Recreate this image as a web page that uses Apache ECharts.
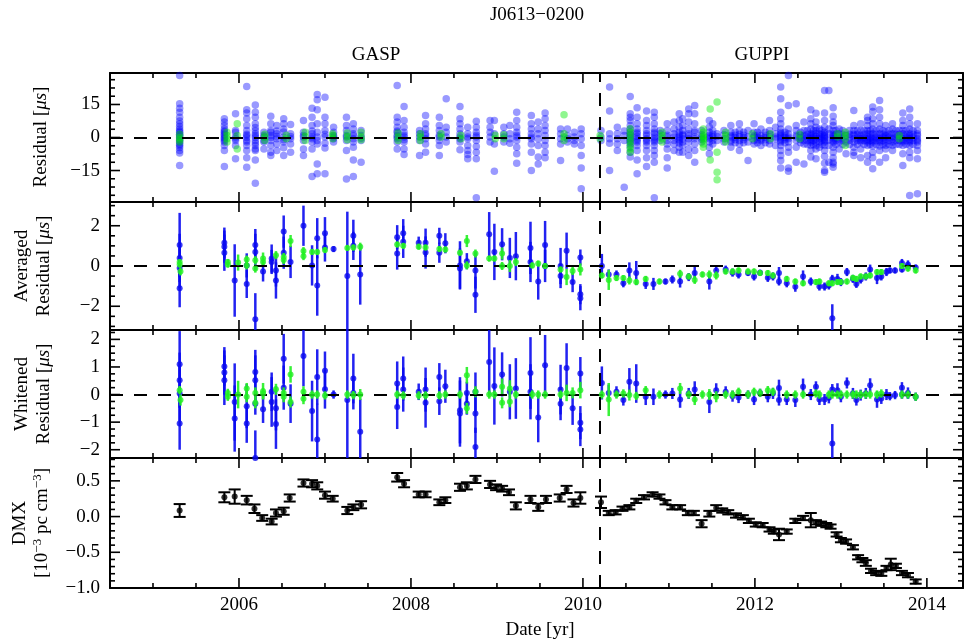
<!DOCTYPE html>
<html>
<head>
<meta charset="utf-8">
<script src="https://cdn.jsdelivr.net/npm/echarts@6/dist/echarts.min.js"></script>
<style>
  html, body { margin: 0; padding: 0; background: #fff; }
  #chart { width: 964px; height: 642px; }
</style>
</head>
<body>
<div id="chart"></div>
<script>
// time axis (years)
const X_MIN = 2004.5;
const X_MAX = 2014.42;
const GUPPI_START = 2010.19;
const yearLabels = [2006, 2008, 2010, 2012, 2014];
const yearMinor = [2005, 2005.5, 2006.5, 2007, 2007.5, 2008.5, 2009, 2009.5,
  2010.5, 2011, 2011.5, 2012.5, 2013, 2013.5];

// tick values per panel
const resTicks = [-15, 0, 15];
const resMinor = [-26.25, -22.5, -18.75, -11.25, -7.5, -3.75, 3.75, 7.5, 11.25, 18.75, 22.5, 26.25];
const avgTicks = [-2, 0, 2];
const avgMinor = [-3, -2.5, -1.5, -1, -0.5, 0.5, 1, 1.5, 2.5, 3];
const whtTicks = [-2, -1, 0, 1, 2];
const whtMinor = [-1.75, -1.5, -1.25, -0.75, -0.5, -0.25, 0.25, 0.5, 0.75, 1.25, 1.5, 1.75, 2.25];
const dmxTicks = [-1, -0.5, 0, 0.5];
const dmxMinor = [-0.9, -0.8, -0.7, -0.6, -0.4, -0.3, -0.2, -0.1, 0.1, 0.2, 0.3, 0.4, 0.6, 0.7, 0.8];

// raw residuals [us]: [epoch, residuals]
const resBlue = [
  [2005.31, [28.2, 15.3, 13.3, 11.5, 9.2, 7.5, 6.2, 5, 3.9, 3, 2.4, 1.5, 0.9, 0.3, -0.6, -1.2, -2.1, -3, -3.6, -4.5, -5.9, -7, -12.7]],
  [2005.83, [8.5, 7, 5.5, 3.9, 3, 2.4, 1.5, 0.9, 0, -0.6, -1.4, -2.1, -3.6, -5.9, -13.2]],
  [2005.96, [10.8, 3.2, 2.4, 0.2, -0.6, -1.4, -3.6, -9.7]],
  [2006.09, [23.2, 12.6, 11.1, 8.5, 5.5, 3.2, 1.5, 0.9, 0, -1.4, -2.1, -3.6, -5.9, -9.2, -13.5]],
  [2006.19, [14.8, 11.5, 9.2, 6.2, 4.5, 3.2, 1.7, 0.9, 0, -1.4, -2.5, -3.6, -5.2, -5.9, -10.2, -20.8]],
  [2006.29, [2.4, 0.9, 0.2, -1.4, -2.1, -5.2]],
  [2006.37, [9.7, 6.2, 3.2, 2.4, 0.9, 0, -1.4, -3.6, -6.7, -8.2]],
  [2006.44, [5.5, 3, 1.7, 0.5, -0.6, -2.9, -5.9]],
  [2006.52, [8.5, 6.2, 3.9, 2.5, 0.2, -1, -2.1, -4.7, -8.2]],
  [2006.60, [5.9, 1.7, 0.5, -0.6, -2.9, -6.7]],
  [2006.75, [7.7, 2.4, 0.9, 0.2, -1.4, -5.2, -8.2]],
  [2006.85, [13.3, 9.2, 5.5, 3, 1.7, 0.2, -0.6, -2.1, -5.2, -17.7]],
  [2006.91, [19.5, 17.1, 12.6, 6.2, 2.4, 0.2, -1.4, -2.9, -12, -16.5]],
  [2007.00, [18.3, 9.2, 6.2, 3.2, 1.5, 0.2, -2.6, -4.8, -16.5]],
  [2007.10, [4.7, 2.4, 0.9, 0.2, -0.6, -2.1]],
  [2007.25, [9.2, 5.5, 3.2, 0.9, 0.2, -1.4, -5.9, -18.8]],
  [2007.33, [6.2, 3.9, 1.7, 0.9, -0.6, -2.1, -4.4, -10.2, -17.7]],
  [2007.42, [3.2, 0.9, -0.3, -1.4, -11.2]],
  [2007.84, [23.6, 9.2, 7, 4.7, 3, 2.4, 0.9, 0.2, -0.6, -2.1, -5.2]],
  [2007.92, [14.1, 7.7, 4.7, 2.4, 1, 0.2, -1, -2.1, -5.2, -7.7]],
  [2008.10, [3.2, 1.7, 0.2, -1.4, -8.2]],
  [2008.17, [10, 6.2, 3.9, 1.7, 0.9, -0.6, -2.9, -6.7]],
  [2008.33, [9.2, 5.5, 3.2, 1, 0.2, -1.4, -3.6, -8.2]],
  [2008.41, [17.6, 4.7, 2.4, 0.2, -2.1]],
  [2008.57, [14.1, 8.5, 6.2, 3.9, 1.7, 0.2, -0.6, -2.1, -5.6]],
  [2008.66, [4.7, 1.7, 0.2, -0.6, -3.6, -5.9, -7.7, -9.7]],
  [2008.76, [7.4, 4.7, 2.4, 1, 0.2, -1.4, -4.1, -6.7, -9.7, -27.4]],
  [2008.92, [7.7, 4.7, 2.4, 0.2, -2.1]],
  [2008.97, [7.7, 1.7, -2.9, -15.3]],
  [2009.08, [4.7, 1.7, 0.2, -2.1]],
  [2009.15, [5.5, 1.7, -0.6, -2.6]],
  [2009.23, [11.5, 7.7, 4.7, 2.4, 1, 0.2, -1.4, -4.4, -7.4, -11.7]],
  [2009.40, [10, 6.2, 3.9, 1.7, 0.2, -0.6, -2.9, -6.7, -15]],
  [2009.48, [7, 3.9, 1.7, -0.6, -3.6, -8.9, -12]],
  [2009.56, [11.1, 8.5, 5.5, 3.2, 0.9, -1.4, -3.6, -6.7, -9.2]],
  [2009.74, [3.9, 1.7, -0.6, -2.9, -10.5]],
  [2009.82, [3.9, 0.9, -0.6, -2.1]],
  [2009.90, [2.4, 0.2, -1.4, -2.9]],
  [2009.98, [3.9, 1.7, -0.6, -3.6, -8.2, -13.8, -23.3]],
  [2010.21, [3.2, 0.2, -1.4]],
  [2010.31, [22.9, 12, 1.7, -0.6, -2.6, -15]],
  [2010.40, [4.7, 1.7, -0.6, -2.9, -5.9]],
  [2010.48, [2.9, 0.9, -1.4, -22.6]],
  [2010.55, [18.6, 10.8, 9.2, 7.7, 5.5, 3.9, 2.4, 1.5, 0.9, 0, -0.6, -1.4, -2.1, -3, -4.4, -6.7, -8.9]],
  [2010.63, [13.5, 9.2, 6.2, 3.9, 2.4, 1.7, 0.5, -0.6, -1.4, -2.1, -3.6, -5.9, -10.2, -16.5]],
  [2010.74, [12, 7.7, 5.5, 3.2, 1.7, 0.9, -0.6, -1.4, -2.1, -3.6, -5.9, -9.2, -13.2]],
  [2010.83, [11.5, 9.2, 6.2, 3.9, 2.4, 1.7, 0.2, -0.6, -1.4, -2.1, -3.6, -5.9, -8.2, -11.2, -27.4]],
  [2010.90, [3.2, 1.7, 0.2, -1.4]],
  [2010.98, [6.2, 3.2, 1, 0.2, -1.4, -2.9, -5.2, -9.2, -13.8]],
  [2011.06, [7, 3.9, 1.7, 0.2, -1.4, -2.9, -5.9]],
  [2011.12, [10.8, 7.7, 4.7, 2.4, 1.2, 0.2, -0.8, -1.4, -2.5, -4.4, -6.7]],
  [2011.16, [8.5, 5.5, 3.2, 1.5, 0.9, -0.6, -2.1, -3.6, -6.7]],
  [2011.23, [13, 10.8, 7, 3.9, 1.7, 0.9, -0.6, -2.1, -5.2, -8.2]],
  [2011.30, [14.5, 10.8, 6.2, 3.2, 2.4, 0.2, -0.6, -2.9, -5.9, -11.2]],
  [2011.38, [3.2, 1.2, 0.2, -0.8, -2.1]],
  [2011.47, [7.7, 4.7, 2.4, 1, 0.2, -0.6, -2.1, -4.4, -7.4]],
  [2011.51, [6.2, 3.2, 1.5, 0.2, -1.4, -2.9]],
  [2011.56, [1.7, 0.5, -1.4]],
  [2011.64, [3.2, 1.2, -0.6, -2.1]],
  [2011.72, [5.5, 2.4, 0.9, 0.2, -1.4, -2.1, -4.4]],
  [2011.77, [2.4, 1, 0, -1, -2.4]],
  [2011.82, [6.2, 3.2, 1.5, 0.2, -1.4, -2.9, -5.9]],
  [2011.87, [2.4, 1, 0, -1, -2.4]],
  [2011.92, [3.2, 0.2, -2.1, -10.5]],
  [2011.99, [6.2, 2.4, 0.9, 0.2, -1.4, -2.9]],
  [2012.03, [2.4, 1, 0, -1, -2.4]],
  [2012.07, [3.9, 0.9, -0.6, -1.4, -3.6]],
  [2012.12, [2.4, 1, 0, -1, -2.4]],
  [2012.17, [7.7, 3.2, 1.5, 0.2, -1.4, -2.9]],
  [2012.24, [4.7, 1.7, 0.2, -0.6, -3.6]],
  [2012.30, [22.9, 17.6, 11.5, 8.5, 6.2, 3.9, 2.4, 1.7, 0.9, 0.2, -0.6, -1.4, -2.1, -3.6, -5.9, -8.2, -10.5, -13.8]],
  [2012.35, [2.4, 1, 0, -1, -2.4]],
  [2012.39, [28.2, 14.5, 3.9, 1.7, 0.2, -0.6, -2.1, -4.4, -6.7, -13.8, -15.3]],
  [2012.48, [15.3, 5.5, 3.2, 1, 0.2, -1.4, -4.4, -11.2]],
  [2012.53, [2.4, 1, 0, -1, -2.4]],
  [2012.57, [7, 3.2, 0.9, 0.2, -1.4, -2.9, -12]],
  [2012.61, [3.2, 1.5, 0, -1.4, -3.2]],
  [2012.65, [12.6, 8.5, 6.2, 3.9, 1.7, 0.9, 0.2, -0.6, -1.4, -2.1, -3.6, -5.9, -8.9]],
  [2012.68, [3.2, 1.5, 0, -1.4, -3.2]],
  [2012.71, [11, 7, 4.7, 3.2, 1.7, 0.5, -0.6, -2.1, -3.6, -5.2, -9.7]],
  [2012.75, [3.9, 1.7, 0.5, -0.6, -2.1, -4.4]],
  [2012.78, [3.2, 1.5, 0, -1.4, -3.2]],
  [2012.81, [21.4, 11.1, 7.7, 4.7, 2.4, 1.5, 0.9, 0.2, -0.6, -1.4, -2.1, -3.6, -5.9, -8.5, -11.7, -15, -15.8]],
  [2012.86, [21.4, 3.9, 1.7, -1.4, -3.6, -11.2]],
  [2012.91, [13.5, 9.7, 7, 5.5, 3.2, 1.5, 0.9, 0.2, -0.6, -1.4, -2.1, -4.4, -6.7, -9.2, -11.2, -12, -13.5]],
  [2012.94, [3.2, 1.5, 0, -1.4, -3.2]],
  [2012.98, [3.9, 1.7, 0.2, -0.6, -2.1, -5.2]],
  [2013.02, [3.2, 1.5, 0, -1.4, -3.2]],
  [2013.06, [0.9, -2.1, -7.4]],
  [2013.10, [3.2, 1.5, 0, -1.4, -3.2]],
  [2013.15, [12.3, 5.5, 3.2, 1.5, 0.9, -0.6, -2.1, -4.4, -6.7, -8.2]],
  [2013.19, [3.2, 1.5, 0, -1.4, -3.2]],
  [2013.23, [6.2, 3.2, 1, 0.2, -0.6, -1.4, -2.1, -5.2, -9.2]],
  [2013.27, [3.2, 1.5, 0, -1.4, -3.2]],
  [2013.31, [9.2, 7.7, 5.5, 3.2, 1.7, 0.2, -0.6, -1.4, -2.1, -3.6, -8.2, -11.2]],
  [2013.34, [3.2, 1.5, 0, -1.4, -3.2]],
  [2013.37, [13.8, 11.8, 8.5, 6.2, 3.9, 1.7, 0.2, -0.6, -1.4, -2.1, -3.9, -6.7, -9.2, -14.2]],
  [2013.41, [3.2, 1.5, 0, -1.4, -3.2]],
  [2013.45, [16.8, 12.6, 9.2, 6.2, 3.9, 1.7, 0.2, -0.6, -1.4, -2.1, -3.9, -5.9, -11.2]],
  [2013.49, [3.2, 1.5, 0, -1.4, -3.2]],
  [2013.52, [5.5, 2.4, 0.9, 0.2, -0.6, -2.1, -3.6, -5.2, -9.2]],
  [2013.56, [3.2, 1.5, 0, -1.4, -3.2]],
  [2013.60, [6.2, 3.9, 1.7, 0.2, -0.6, -2.1, -3.6, -5.9]],
  [2013.64, [3.2, 1.5, 0, -1.4, -3.2]],
  [2013.68, [3.2, 1.5, 0, -1.4, -3.2]],
  [2013.72, [11.1, 7.7, 5.5, 3.2, 1.7, 0.2, -0.6, -1.4, -2.1, -3.6, -7.4, -12.7]],
  [2013.76, [3.2, 1.5, 0, -1.4, -3.2]],
  [2013.80, [13, 9.2, 6.2, 3.9, 1.7, 0.9, 0.2, -0.6, -1.4, -2.1, -3.6, -6.7, -9.2, -26.4]],
  [2013.84, [3.2, 1.5, 0, -1.4, -3.2]],
  [2013.89, [6.2, 3.2, 1.7, 0.9, -0.6, -1.4, -2.1, -3.6, -5.9, -9.7, -25.6]]
];
const resGreen = [
  [2005.31, [1.5, 0, -1, -2]],
  [2005.86, [2.4, 0.9, -0.6, -2.1]],
  [2005.98, [6.2, 0.9, -5.2]],
  [2006.30, [1.5, 0.2, -1.4]],
  [2006.55, [1, -0.6]],
  [2006.77, [2.4, 0.5, -1.4]],
  [2007.09, [1.7, 0.9, -0.6]],
  [2007.26, [2, 0.5, -1]],
  [2007.42, [2.4, 0.2, -1]],
  [2007.85, [2, 0.2, -1.4]],
  [2008.11, [1.7, 0.2, -1.4]],
  [2008.35, [1.7, 0.2]],
  [2008.58, [1, -0.6]],
  [2008.98, [1, -0.6]],
  [2009.08, [1.2, -0.6]],
  [2009.78, [10.3, 1.7, 0.2, -1.4]],
  [2010.20, [0.9, -0.6]],
  [2010.55, [4, 2.4, 0.9, -0.6, -2.1, -3.6, -5.2, -6.7]],
  [2010.92, [2.4, 0.9, -0.6, -2.1]],
  [2011.40, [3.9, 2.4, 0.9, 0.2, -0.6, -1.4, -3, -4.4]],
  [2011.48, [13, -10.2]],
  [2011.56, [16.1, -6.7, -15.8, -19.2]],
  [2011.66, [2.4, 0.9, -0.6, -2.1]],
  [2011.97, [1.7, -0.6]],
  [2012.18, [1.7, -0.6]],
  [2012.52, [1.5, -0.6]],
  [2012.96, [1.7, 0.2]],
  [2013.05, [2.4, 0.9, -0.6, -3.6]],
  [2013.68, [0.9, -0.6]]
];

// averaged residuals [us]: [epoch, value, error]
const avgBlue = [
  [2005.31, 1.04, 1.6], [2005.31, 0.4, 1.2], [2005.31, -0.1, 1.0], [2005.31, -1.1, 0.95],
  [2005.83, 1.16, 0.75], [2005.83, 0.96, 0.8], [2005.83, 0.66, 0.9],
  [2005.95, -0.72, 1.8], [2006.09, -0.89, 0.7], [2006.09, 0.03, 0.6],
  [2006.19, 1.04, 0.8], [2006.19, 0.7, 0.9], [2006.19, -2.65, 1.3],
  [2006.28, -0.27, 0.5], [2006.38, 0.37, 0.7], [2006.38, 0.2, 0.6],
  [2006.43, -0.22, 0.8], [2006.43, -0.72, 0.9], [2006.52, 1.71, 0.8], [2006.52, 0.66, 0.8],
  [2006.60, 0.2, 0.8], [2006.75, 2.0, 1.0], [2006.85, 0.03, 1.0],
  [2006.91, 1.38, 1.0], [2006.91, -0.97, 1.5], [2007.00, 1.63, 0.8], [2007.00, 0.92, 0.7],
  [2007.10, 0.84, 0.15], [2007.26, -0.5, 3.2], [2007.33, 1.5, 0.8], [2007.33, 1.0, 0.7],
  [2007.41, -0.42, 1.5], [2007.84, 1.43, 0.6], [2007.84, 0.62, 0.8],
  [2007.91, 1.63, 0.7], [2007.91, 1.2, 0.8], [2008.09, 1.16, 0.3],
  [2008.17, 1.16, 0.7], [2008.17, 0.67, 0.8], [2008.33, 1.5, 0.4], [2008.33, 0.66, 0.5],
  [2008.40, 1.13, 0.5], [2008.57, 0.03, 1.2], [2008.57, -0.13, 1.0], [2008.65, 0.24, 0.4],
  [2008.75, -0.22, 0.9], [2008.75, -1.43, 0.9], [2008.91, 1.58, 1.1], [2008.97, 0.7, 1.4],
  [2009.06, 1.08, 0.8], [2009.15, 0.4, 1.0], [2009.22, 0.49, 1.2],
  [2009.39, 0.9, 1.3], [2009.39, 0.2, 1.0], [2009.48, -0.77, 0.9],
  [2009.56, 1.04, 1.2], [2009.56, 0, 0.8], [2009.74, 0, 0.9], [2009.74, -0.5, 0.6],
  [2009.81, 0.76, 0.9], [2009.88, -0.8, 0.5],
  [2009.97, 0.42, 0.4], [2009.97, -1.4, 0.5], [2009.97, -1.6, 0.6],
  [2010.22, 0, 0.6], [2010.30, -0.42, 0.25], [2010.39, -0.42, 0.2], [2010.47, -0.86, 0.2],
  [2010.54, -0.22, 0.4], [2010.62, -0.35, 0.6], [2010.73, -0.89, 0.25], [2010.82, -0.89, 0.3],
  [2010.96, -0.77, 0.15], [2011.04, -0.67, 0.2], [2011.13, -0.77, 0.3], [2011.23, -0.55, 0.2],
  [2011.30, -0.35, 0.3], [2011.47, -0.77, 0.4], [2011.55, -0.22, 0.25], [2011.66, -0.18, 0.2],
  [2011.74, -0.33, 0.2], [2011.81, -0.42, 0.2], [2011.92, -0.35, 0.15], [2011.99, -0.52, 0.2],
  [2012.06, -0.33, 0.15], [2012.15, -0.59, 0.2], [2012.21, -0.52, 0.2], [2012.28, -0.35, 0.3],
  [2012.28, -0.77, 0.2], [2012.37, -0.86, 0.2], [2012.47, -1.03, 0.25], [2012.56, -0.52, 0.3],
  [2012.65, -0.77, 0.2], [2012.75, -1.02, 0.2], [2012.81, -1.02, 0.2], [2012.86, -0.97, 0.2],
  [2012.90, -0.64, 0.2], [2012.90, -2.6, 0.7], [2012.96, -0.64, 0.25], [2013.00, -0.8, 0.2],
  [2013.07, -0.3, 0.2], [2013.14, -0.64, 0.2], [2013.18, -0.89, 0.2], [2013.23, -0.67, 0.2],
  [2013.29, -0.52, 0.2], [2013.34, -0.18, 0.25], [2013.42, -0.6, 0.3], [2013.47, -0.52, 0.2],
  [2013.53, -0.3, 0.2], [2013.57, -0.22, 0.15], [2013.63, -0.22, 0.15], [2013.71, 0.15, 0.2],
  [2013.71, -0.17, 0.15], [2013.78, 0.08, 0.2], [2013.78, -0.02, 0.15], [2013.87, -0.08, 0.15]
];
const avgGreen = [
  [2005.31, 0.2, 0.15], [2005.31, 0.07, 0.15], [2005.32, -0.27, 0.2], [2005.87, 0.2, 0.15],
  [2005.87, 0.07, 0.15], [2005.99, 0.17, 0.4], [2006.09, 0.32, 0.2], [2006.09, 0.03, 0.2],
  [2006.19, 0.29, 0.2], [2006.19, -0.13, 0.2], [2006.28, 0.37, 0.3], [2006.28, 0.2, 0.2],
  [2006.43, 0.54, 0.2], [2006.52, 0.45, 0.2], [2006.52, 0.3, 0.2], [2006.60, 1.24, 0.3],
  [2006.75, 0.74, 0.2], [2006.75, 0.49, 0.2], [2006.85, 0.7, 0.15], [2006.91, 0.7, 0.15],
  [2007.00, 0.79, 0.15], [2007.26, 0.9, 0.15], [2007.33, 0.92, 0.15], [2007.41, 0.96, 0.2],
  [2007.84, 1.07, 0.15], [2007.91, 1.0, 0.15], [2008.09, 0.96, 0.15], [2008.17, 0.92, 0.15],
  [2008.33, 0.84, 0.15], [2008.40, 0.82, 0.15], [2008.57, 0.66, 0.15], [2008.65, 1.24, 0.3],
  [2008.65, 0.03, 0.2], [2008.75, 0.62, 0.2], [2008.91, 0.37, 0.15], [2008.97, 0.37, 0.15],
  [2009.06, 0.62, 0.3], [2009.06, 0, 0.2], [2009.15, 0, 0.3], [2009.22, 0.2, 0.2],
  [2009.41, 0.03, 0.15], [2009.48, 0.12, 0.15], [2009.56, 0, 0.15], [2009.74, -0.17, 0.15],
  [2009.81, -0.55, 0.4], [2009.88, -0.25, 0.2], [2009.97, -0.17, 0.3],
  [2010.22, -0.47, 0.15], [2010.30, -0.69, 0.5], [2010.39, -0.6, 0.15], [2010.47, -0.6, 0.15],
  [2010.54, -0.72, 0.2], [2010.62, -0.8, 0.15], [2010.73, -0.64, 0.15], [2010.89, -0.77, 0.15],
  [2011.13, -0.39, 0.2], [2011.23, -0.52, 0.15], [2011.30, -0.69, 0.2], [2011.39, -0.42, 0.15],
  [2011.47, -0.42, 0.2], [2011.55, -0.47, 0.2], [2011.66, -0.27, 0.15], [2011.74, -0.27, 0.15],
  [2011.81, -0.22, 0.15], [2011.92, -0.27, 0.15], [2011.99, -0.27, 0.15], [2012.06, -0.35, 0.15],
  [2012.15, -0.35, 0.15], [2012.21, -0.47, 0.15], [2012.37, -0.64, 0.15], [2012.47, -0.77, 0.15],
  [2012.56, -0.86, 0.15], [2012.71, -0.8, 0.15], [2012.75, -0.77, 0.15], [2012.86, -0.86, 0.15],
  [2012.90, -0.86, 0.15], [2012.96, -0.8, 0.15], [2013.00, -0.8, 0.15], [2013.07, -0.77, 0.15],
  [2013.14, -0.59, 0.15], [2013.18, -0.64, 0.15], [2013.23, -0.52, 0.15], [2013.29, -0.52, 0.15],
  [2013.34, -0.47, 0.15], [2013.42, -0.3, 0.15], [2013.47, -0.3, 0.15], [2013.71, 0, 0.15],
  [2013.78, -0.13, 0.15], [2013.87, -0.22, 0.15]
];

// whitened residuals [us]: [epoch, value, error]
const whtBlue = [
  [2005.31, 1.1, 1.2], [2005.31, 0.52, 1.0], [2005.31, 0.04, 1.0], [2005.31, -1.05, 0.95],
  [2005.83, 1.02, 0.7], [2005.83, 0.8, 0.8], [2005.83, 0.52, 0.9],
  [2005.95, -0.27, 1.4], [2005.95, -0.87, 1.2], [2006.09, -0.42, 0.8], [2006.09, -1.05, 0.7],
  [2006.19, 0.82, 0.8], [2006.19, 0.52, 0.9], [2006.19, -0.33, 0.4], [2006.19, -2.3, 1.0],
  [2006.28, -0.53, 0.5], [2006.38, 0.1, 0.7], [2006.38, -0.27, 0.9],
  [2006.43, -0.5, 0.8], [2006.43, -1.07, 0.9], [2006.52, 1.3, 0.9], [2006.52, 0.25, 0.8],
  [2006.60, -0.33, 0.7], [2006.75, 1.4, 1.1], [2006.85, -0.6, 1.1],
  [2006.91, 0.64, 1.0], [2006.91, -1.63, 1.3], [2007.00, 0.86, 0.7], [2007.00, 0.19, 0.7],
  [2007.10, 0, 0.15], [2007.26, -0.2, 2.8], [2007.33, 0.58, 0.9], [2007.33, 0.06, 0.6],
  [2007.41, -1.35, 1.2], [2007.84, 0.4, 0.8], [2007.84, -0.45, 0.8],
  [2007.91, 0.58, 0.8], [2007.91, 0.18, 0.8], [2008.09, 0.1, 0.3],
  [2008.17, 0.18, 0.8], [2008.17, -0.3, 0.9], [2008.33, 0.64, 0.5], [2008.33, -0.24, 0.5],
  [2008.40, 0.3, 0.6], [2008.57, -0.57, 1.2], [2008.57, -0.69, 1.2],
  [2008.65, 0.06, 0.4], [2008.65, -0.33, 0.4], [2008.75, 0.1, 0.7], [2008.75, -0.69, 0.7],
  [2008.75, -1.9, 0.7], [2008.91, 1.18, 1.2], [2008.97, 0.31, 1.4], [2009.06, 0.73, 0.8],
  [2009.15, 0.1, 1.0], [2009.22, 0.22, 1.1], [2009.39, 0.78, 1.3], [2009.39, 0.1, 1.0],
  [2009.48, -0.83, 0.9], [2009.56, 1.06, 1.1], [2009.74, 0.18, 0.9], [2009.74, -0.33, 0.6],
  [2009.81, 0.96, 0.9], [2009.88, -0.5, 0.6],
  [2009.97, 0.76, 0.6], [2009.97, -1.02, 0.6], [2009.97, -1.27, 0.6],
  [2010.22, 0.42, 0.6], [2010.30, 0.06, 0.3], [2010.39, 0.1, 0.2], [2010.47, -0.2, 0.2],
  [2010.54, 0.46, 0.5], [2010.62, 0.4, 0.7], [2010.73, -0.08, 0.3], [2010.82, -0.08, 0.3],
  [2010.96, 0, 0.15], [2011.04, 0.04, 0.2], [2011.13, -0.18, 0.3], [2011.23, 0.04, 0.2],
  [2011.30, 0.18, 0.3], [2011.47, -0.27, 0.4], [2011.55, 0.16, 0.25], [2011.66, 0.1, 0.2],
  [2011.74, -0.06, 0.2], [2011.81, -0.11, 0.2], [2011.92, 0, 0.15], [2011.99, -0.18, 0.2],
  [2012.06, 0.06, 0.15], [2012.15, -0.08, 0.2], [2012.21, 0.04, 0.2], [2012.28, 0.24, 0.3],
  [2012.28, -0.2, 0.2], [2012.37, -0.18, 0.2], [2012.47, -0.2, 0.25], [2012.56, 0.28, 0.3],
  [2012.65, 0, 0.2], [2012.71, 0.28, 0.2], [2012.75, -0.18, 0.2], [2012.81, -0.18, 0.2],
  [2012.86, -0.12, 0.2], [2012.90, 0.18, 0.2], [2012.90, -1.77, 0.7], [2012.96, 0.16, 0.25],
  [2013.00, -0.08, 0.2], [2013.07, 0.42, 0.2], [2013.14, 0.04, 0.2], [2013.18, -0.2, 0.2],
  [2013.23, -0.02, 0.2], [2013.29, 0.04, 0.2], [2013.34, 0.34, 0.25], [2013.42, -0.18, 0.3],
  [2013.47, -0.14, 0.2], [2013.53, 0, 0.2], [2013.57, -0.06, 0.15], [2013.63, -0.02, 0.15],
  [2013.71, 0.25, 0.2], [2013.71, 0, 0.15], [2013.78, 0.06, 0.2], [2013.78, 0, 0.15],
  [2013.87, -0.08, 0.15]
];
const whtGreen = [
  [2005.31, 0.16, 0.15], [2005.32, -0.2, 0.2], [2005.87, 0.06, 0.15], [2005.87, -0.08, 0.15],
  [2005.99, 0, 0.5], [2006.09, 0.22, 0.2], [2006.09, -0.08, 0.2], [2006.19, 0.06, 0.2],
  [2006.19, -0.3, 0.2], [2006.28, 0.12, 0.3], [2006.28, 0.04, 0.2], [2006.43, 0.19, 0.2],
  [2006.52, 0.06, 0.2], [2006.52, -0.08, 0.2], [2006.60, 0.73, 0.3], [2006.60, -0.27, 0.2],
  [2006.75, 0.1, 0.2], [2006.75, -0.15, 0.2], [2006.85, 0, 0.15], [2006.91, 0, 0.15],
  [2007.00, -0.03, 0.15], [2007.26, 0, 0.15], [2007.33, -0.02, 0.15], [2007.41, 0, 0.2],
  [2007.84, 0, 0.15], [2007.91, -0.03, 0.15], [2008.09, -0.03, 0.15], [2008.17, -0.03, 0.15],
  [2008.33, -0.03, 0.15], [2008.40, 0, 0.15], [2008.57, 0, 0.15], [2008.65, 0.7, 0.3],
  [2008.65, -0.5, 0.2], [2008.75, 0.1, 0.2], [2008.91, 0, 0.15], [2008.97, 0, 0.15],
  [2009.06, 0.28, 0.3], [2009.06, -0.3, 0.2], [2009.15, 0.22, 0.3], [2009.15, -0.26, 0.2],
  [2009.22, 0, 0.15], [2009.41, 0, 0.15], [2009.48, 0, 0.15], [2009.56, 0, 0.15],
  [2009.74, 0, 0.15], [2009.81, 0.06, 0.3], [2009.88, 0.06, 0.2], [2009.97, 0.16, 0.3],
  [2010.22, 0, 0.15], [2010.30, -0.18, 0.6], [2010.39, 0, 0.15], [2010.47, 0.04, 0.15],
  [2010.54, -0.02, 0.2], [2010.62, -0.05, 0.15], [2010.73, 0.16, 0.15], [2010.89, 0, 0.15],
  [2011.13, 0.22, 0.2], [2011.23, 0, 0.15], [2011.30, -0.18, 0.2], [2011.39, 0, 0.15],
  [2011.47, 0, 0.2], [2011.55, -0.08, 0.2], [2011.66, 0, 0.15], [2011.74, 0, 0.15],
  [2011.81, 0.1, 0.15], [2011.92, 0, 0.15], [2011.99, 0.1, 0.15], [2012.06, 0.06, 0.15],
  [2012.15, 0.16, 0.15], [2012.21, 0.1, 0.15], [2012.37, 0, 0.15], [2012.47, 0, 0.15],
  [2012.56, 0, 0.15], [2012.71, 0.04, 0.15], [2012.75, 0, 0.15], [2012.86, 0, 0.15],
  [2012.90, 0, 0.15], [2012.96, 0, 0.15], [2013.00, 0, 0.15], [2013.07, 0, 0.15],
  [2013.14, 0, 0.15], [2013.18, 0, 0.15], [2013.23, 0, 0.15], [2013.29, 0, 0.15],
  [2013.34, 0, 0.15], [2013.42, 0, 0.15], [2013.47, 0.04, 0.15], [2013.71, 0, 0.15],
  [2013.78, 0, 0.15], [2013.87, -0.08, 0.15]
];

// DMX [1e-3 pc cm^-3]: [epoch, value, error]
const dmx = [
  [2005.31, 0.085, 0.09], [2005.83, 0.27, 0.07], [2005.95, 0.28, 0.1], [2006.09, 0.23, 0.06],
  [2006.18, 0.11, 0.06], [2006.27, -0.02, 0.04], [2006.38, -0.07, 0.04], [2006.43, 0.05, 0.05],
  [2006.52, 0.075, 0.05], [2006.59, 0.26, 0.05], [2006.75, 0.47, 0.05], [2006.85, 0.46, 0.05],
  [2006.91, 0.43, 0.05], [2007.00, 0.30, 0.05], [2007.09, 0.25, 0.04], [2007.26, 0.085, 0.05],
  [2007.33, 0.13, 0.04], [2007.42, 0.165, 0.05], [2007.84, 0.55, 0.06], [2007.92, 0.46, 0.05],
  [2008.09, 0.31, 0.04], [2008.17, 0.31, 0.04], [2008.33, 0.2, 0.04], [2008.40, 0.23, 0.04],
  [2008.57, 0.41, 0.05], [2008.65, 0.43, 0.05], [2008.75, 0.52, 0.05], [2008.92, 0.45, 0.05],
  [2008.99, 0.41, 0.04], [2009.06, 0.39, 0.04], [2009.14, 0.34, 0.04], [2009.22, 0.15, 0.05],
  [2009.39, 0.24, 0.05], [2009.48, 0.13, 0.05], [2009.57, 0.24, 0.05], [2009.73, 0.26, 0.05],
  [2009.81, 0.38, 0.05], [2009.89, 0.19, 0.05], [2009.97, 0.26, 0.08],
  [2010.21, 0.2, 0.08], [2010.30, 0.05, 0.03], [2010.38, 0.06, 0.03], [2010.46, 0.11, 0.03],
  [2010.54, 0.13, 0.03], [2010.62, 0.22, 0.03], [2010.71, 0.27, 0.03], [2010.81, 0.31, 0.03],
  [2010.89, 0.28, 0.03], [2010.96, 0.2, 0.03], [2011.04, 0.13, 0.03], [2011.13, 0.13, 0.03],
  [2011.22, 0.05, 0.03], [2011.29, 0.05, 0.03], [2011.38, -0.1, 0.05], [2011.47, 0.04, 0.04],
  [2011.55, 0.12, 0.04], [2011.62, 0.085, 0.03], [2011.69, 0.06, 0.03], [2011.78, 0.015, 0.03],
  [2011.86, -0.01, 0.03], [2011.93, -0.06, 0.03], [2012.01, -0.11, 0.03], [2012.09, -0.12, 0.03],
  [2012.17, -0.18, 0.03], [2012.22, -0.21, 0.03], [2012.28, -0.25, 0.08], [2012.37, -0.21, 0.03],
  [2012.47, -0.06, 0.03], [2012.56, -0.02, 0.03], [2012.65, -0.05, 0.1], [2012.71, -0.08, 0.03],
  [2012.77, -0.1, 0.03], [2012.83, -0.12, 0.03], [2012.88, -0.14, 0.03], [2012.95, -0.25, 0.03],
  [2013.00, -0.33, 0.03], [2013.06, -0.35, 0.03], [2013.14, -0.43, 0.03], [2013.20, -0.57, 0.03],
  [2013.25, -0.61, 0.03], [2013.29, -0.65, 0.04], [2013.35, -0.76, 0.03], [2013.41, -0.79, 0.03],
  [2013.47, -0.8, 0.03], [2013.53, -0.72, 0.03], [2013.58, -0.67, 0.08], [2013.64, -0.69, 0.03],
  [2013.71, -0.79, 0.03], [2013.78, -0.82, 0.03], [2013.87, -0.91, 0.03]
];

const FONT = '"Liberation Serif", "DejaVu Serif", serif';
const BLUE = '#0a0af0';
const GREEN = '#22f022';

const minus = s => String(s).replace('-', '\u2212');
const fmtInt = v => minus(v);
const fmtOne = v => minus(v.toFixed(1));

const panels = [
  { top: 73, height: 129, min: -29.3, max: 29.3, major: resTicks, minor: resMinor, fmt: fmtInt },
  { top: 202, height: 128, min: -3.18, max: 3.18, major: avgTicks, minor: avgMinor, fmt: fmtInt },
  { top: 330, height: 128, min: -2.3, max: 2.34, major: whtTicks, minor: whtMinor, fmt: fmtInt },
  { top: 458, height: 130, min: -1.0, max: 0.82, major: dmxTicks, minor: dmxMinor, fmt: fmtOne }
];

// one bottom/top x axis and one left/right y axis per panel, they make the frame
const grid = [], xAxis = [], yAxis = [];
panels.forEach((p, i) => {
  grid.push({ left: 110, right: 1, top: p.top, height: p.height, show: false });
  ['bottom', 'top'].forEach(pos => {
    xAxis.push({
      gridIndex: i, type: 'value', position: pos, min: X_MIN, max: X_MAX,
      axisLine: { show: true, onZero: false, lineStyle: { color: '#000', width: 2 } },
      splitLine: { show: false }, axisTick: { show: false },
      axisLabel: { show: pos === 'bottom' && i === panels.length - 1,
        customValues: yearLabels, formatter: v => String(v), margin: 8,
        fontFamily: FONT, fontSize: 19, color: '#000' }
    });
  });
  ['left', 'right'].forEach(pos => {
    yAxis.push({
      gridIndex: i, type: 'value', position: pos, min: p.min, max: p.max,
      axisLine: { show: true, onZero: false, lineStyle: { color: '#000', width: 2 } },
      splitLine: { show: false }, axisTick: { show: false },
      axisLabel: { show: pos === 'left', customValues: p.major, formatter: p.fmt, margin: 10,
        fontFamily: FONT, fontSize: 19, color: '#000' }
    });
  });
});

// inward tick marks on all four sides, placed through the panel's own scales
const MAJOR_LEN = 10, MINOR_LEN = 5;
function tickSeries(i, dim, majors, minors) {
  const p = panels[i];
  const data = majors.map(v => [v, MAJOR_LEN]).concat(minors.map(v => [v, MINOR_LEN]));
  return {
    type: 'custom', xAxisIndex: 2 * i, yAxisIndex: 2 * i, z: 8, silent: true,
    data: data, encode: { x: dim === 'x' ? 0 : [], y: dim === 'y' ? 0 : [] },
    renderItem: function (params, api) {
      const v = api.value(0), len = api.value(1);
      const st = { stroke: '#000', lineWidth: 1.6 };
      let a, b, c, d;
      if (dim === 'x') {
        a = api.coord([v, p.min]); b = api.coord([v, p.max]);
        c = [a[0], a[1] - len]; d = [b[0], b[1] + len];
      } else {
        a = api.coord([X_MIN, v]); b = api.coord([X_MAX, v]);
        c = [a[0] + len, a[1]]; d = [b[0] - len, b[1]];
      }
      return { type: 'group', children: [
        { type: 'line', shape: { x1: a[0], y1: a[1], x2: c[0], y2: c[1] }, style: st },
        { type: 'line', shape: { x1: b[0], y1: b[1], x2: d[0], y2: d[1] }, style: st }
      ] };
    }
  };
}

const dash = { color: '#000', width: 2, type: [13, 11] };
function guides(i, zero) {
  const data = [{ xAxis: GUPPI_START }];
  if (zero) data.push({ yAxis: 0 });
  return {
    type: 'line', xAxisIndex: 2 * i, yAxisIndex: 2 * i, data: [], z: 1,
    markLine: { silent: true, animation: false, symbol: ['none', 'none'],
      label: { show: false }, lineStyle: dash, data: data }
  };
}

function errBars(color, width, cap) {
  return function (params, api) {
    const x = api.value(0), y = api.value(1), e = api.value(2);
    const hi = api.coord([x, y + e]);
    const lo = api.coord([x, y - e]);
    const cs = params.coordSys;
    const style = { stroke: color, lineWidth: width };
    const children = [{ type: 'line', shape: { x1: hi[0], y1: hi[1], x2: lo[0], y2: lo[1] }, style: style }];
    if (cap) {
      children.push({ type: 'line', shape: { x1: hi[0] - cap, y1: hi[1], x2: hi[0] + cap, y2: hi[1] }, style: style });
      children.push({ type: 'line', shape: { x1: lo[0] - cap, y1: lo[1], x2: lo[0] + cap, y2: lo[1] }, style: style });
    }
    return { type: 'group', children: children,
      clipPath: { type: 'rect', shape: { x: cs.x, y: cs.y, width: cs.width, height: cs.height } } };
  };
}

function errSeries(i, data, color, width, cap, z) {
  return { type: 'custom', xAxisIndex: 2 * i, yAxisIndex: 2 * i, data: data, z: z,
    encode: { x: 0, y: 1 }, renderItem: errBars(color, width, cap) };
}
function dots(i, data, color, size, z) {
  return { type: 'scatter', xAxisIndex: 2 * i, yAxisIndex: 2 * i, z: z,
    data: data.map(d => [d[0], d[1]]), symbolSize: size, clip: true,
    itemStyle: { color: color } };
}

const flat = arr => arr.flatMap(([t, vs]) => vs.map(v => [t, v]));

const series = [
  guides(0, true),
  dots(0, flat(resBlue), 'rgba(0,0,255,0.5)', 7.5, 2),
  dots(0, flat(resGreen), 'rgba(0,235,0,0.55)', 7.5, 3),
  guides(1, true),
  errSeries(1, avgBlue, 'rgba(10,10,240,0.9)', 2.5, 0, 2),
  dots(1, avgBlue, BLUE, 6, 3),
  errSeries(1, avgGreen, 'rgba(34,240,34,0.9)', 2.5, 0, 4),
  dots(1, avgGreen, GREEN, 6, 5),
  guides(2, true),
  errSeries(2, whtBlue, 'rgba(10,10,240,0.9)', 2.5, 0, 2),
  dots(2, whtBlue, BLUE, 6, 3),
  errSeries(2, whtGreen, 'rgba(34,240,34,0.9)', 2.5, 0, 4),
  dots(2, whtGreen, GREEN, 6, 5),
  guides(3, false),
  errSeries(3, dmx, '#000', 2, 6, 2),
  dots(3, dmx, '#000', 6, 3)
];
panels.forEach((p, i) => {
  series.push(tickSeries(i, 'x', yearLabels, yearMinor));
  series.push(tickSeries(i, 'y', p.major, p.minor));
});

const txt = { fontFamily: FONT, fontSize: 19, fill: '#000' };
const rich = {
  n: { fontFamily: FONT, fontSize: 19, lineHeight: 22 },
  i: { fontFamily: FONT, fontSize: 19, lineHeight: 22, fontStyle: 'italic' },
  s: { fontFamily: FONT, fontSize: 13, lineHeight: 13, verticalAlign: 'top' }
};
function label(x, y, text, rot) {
  return { type: 'text', x: x, y: y, rotation: rot ? Math.PI / 2 : 0, silent: true,
    style: Object.assign({ text: text, rich: rich, align: 'center', verticalAlign: 'middle' }, txt) };
}

const chart = echarts.init(document.getElementById('chart'), null, { renderer: 'canvas' });
chart.setOption({
  animation: false,
  backgroundColor: '#fff',
  grid: grid,
  xAxis: xAxis,
  yAxis: yAxis,
  series: series,
  graphic: [
    label(537, 15, 'J0613\u22120200'),
    label(376, 55, 'GASP'),
    label(762, 55, 'GUPPI'),
    label(540, 630, 'Date [yr]'),
    label(41, 137, '{n|Residual [}{i|\u03bcs}{n|]}', true),
    label(33, 266, '{n|Averaged}\n{n|Residual [}{i|\u03bcs}{n|]}', true),
    label(33, 394, '{n|Whitened}\n{n|Residual [}{i|\u03bcs}{n|]}', true),
    label(31, 523, '{n|DMX}\n{n|[10}{s|\u22123}{n| pc cm}{s|\u22123}{n|]}', true)
  ]
});
window.addEventListener('resize', () => chart.resize());
</script>
</body>
</html>
